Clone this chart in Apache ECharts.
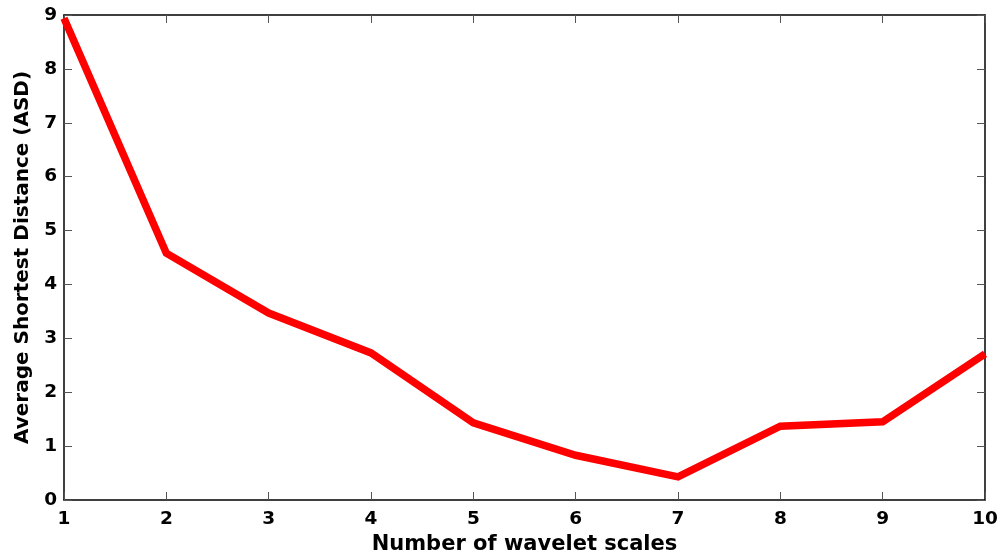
<!DOCTYPE html>
<html>
<head>
<meta charset="utf-8">
<script src="https://cdn.jsdelivr.net/npm/echarts@6/dist/echarts.min.js"></script>
<style>
  html, body { margin: 0; padding: 0; background: #fff; }
  #chart { width: 1003px; height: 556px; }
</style>
</head>
<body>
<div id="chart"></div>
<script>
// Number of wavelet scales vs. average shortest distance
const scales = [1, 2, 3, 4, 5, 6, 7, 8, 9, 10];
const asd = [8.94, 4.58, 3.47, 2.73, 1.43, 0.83, 0.43, 1.37, 1.45, 2.71];
const xTitle = 'Number of wavelet scales';
const yTitle = 'Average Shortest Distance (ASD)';

const font = '"DejaVu Sans", "Liberation Sans", Arial, sans-serif';
const tickStyle = { show: true, inside: true, length: 8, lineStyle: { color: '#555', width: 1 } };
const lineStyle = { show: true, onZero: false, lineStyle: { color: '#000', width: 1.5 } };

const chart = echarts.init(document.getElementById('chart'), null, { renderer: 'canvas' });
chart.setOption({
  animation: false,
  backgroundColor: '#fff',
  grid: { left: 64, right: 18, top: 15, bottom: 56, containLabel: false, outerBoundsMode: 'none' },
  xAxis: [
    {
      type: 'value', min: 1, max: 10, interval: 1, position: 'bottom',
      name: xTitle, nameLocation: 'middle', nameGap: 28,
      nameTextStyle: { fontFamily: font, fontWeight: 'bold', fontSize: 21, color: '#000' },
      axisLine: lineStyle, axisTick: tickStyle,
      axisLabel: { margin: 10, fontFamily: font, fontWeight: 'bold', fontSize: 18.5, color: '#000' },
      splitLine: { show: false }
    },
    {
      type: 'value', min: 1, max: 10, interval: 1, position: 'top',
      axisLine: lineStyle, axisTick: tickStyle, axisLabel: { show: false }, splitLine: { show: false }
    }
  ],
  yAxis: [
    {
      type: 'value', min: 0, max: 9, interval: 1, position: 'left',
      name: yTitle, nameLocation: 'middle', nameGap: 26,
      nameTextStyle: { fontFamily: font, fontWeight: 'bold', fontSize: 20, color: '#000' },
      axisLine: lineStyle, axisTick: tickStyle,
      axisLabel: { margin: 7, fontFamily: font, fontWeight: 'bold', fontSize: 18.5, color: '#000' },
      splitLine: { show: false }
    },
    {
      type: 'value', min: 0, max: 9, interval: 1, position: 'right',
      axisLine: lineStyle, axisTick: tickStyle, axisLabel: { show: false }, splitLine: { show: false }
    }
  ],
  series: [
    {
      type: 'line',
      data: scales.map((s, i) => [s, asd[i]]),
      showSymbol: false,
      lineStyle: { color: '#ff0000', width: 7.5, join: 'miter' },
      clip: true
    }
  ]
});
</script>
</body>
</html>
